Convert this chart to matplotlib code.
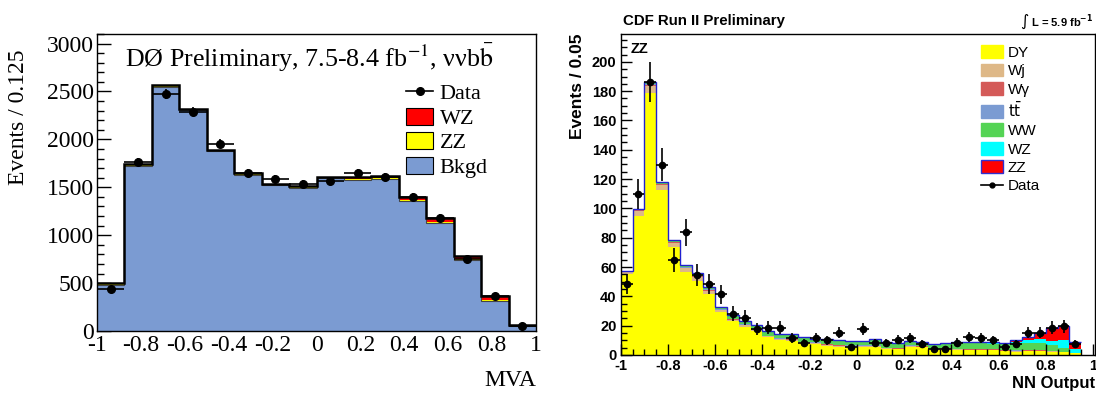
import numpy as np
import matplotlib
matplotlib.use('Agg')
import matplotlib.pyplot as plt
from matplotlib.patches import Patch
from matplotlib.lines import Line2D
from matplotlib.ticker import MultipleLocator

plt.rcParams['axes.unicode_minus'] = False

# ---- left panel: D0 nu nu b bbar, MVA output (16 bins of 0.125)
mva_edges = np.linspace(-1, 1, 17)
d0_bkgd = [482, 1727, 2552, 2305, 1877, 1633, 1523, 1496, 1595, 1579, 1591, 1356, 1123, 737, 318, 51]
d0_zz = [5, 5, 5, 5, 5, 5, 5, 5, 5, 6, 6, 8, 12, 10, 10, 3]
d0_wz = [10, 10, 8, 8, 8, 8, 8, 8, 12, 20, 25, 35, 45, 35, 35, 8]
d0_data = [435, 1763, 2476, 2291, 1955, 1650, 1588, 1536, 1564, 1653, 1605, 1399, 1183, 748, 370, 55]

# ---- right panel: CDF ZZ, NN output (39 filled bins of 0.05)
nn_edges = np.round(np.arange(-1, 0.951, 0.05), 3)
cdf_dy = [55, 95, 179, 112.7, 73.8, 56.7, 50.8, 41.9, 29, 23, 19.4, 16.4, 12, 10.2, 9.8, 8, 7.5, 6.4, 5.7, 5.7,
          5.5, 5.7, 4.1, 3.9, 5.7, 5.2, 3.4, 3.9, 3.4, 3.2, 3.2, 3.2, 2.5, 2.3, 2.5, 2.5, 2.0, 1.8, 1.1]
cdf_wj = [1.8, 3.4, 4.8, 3.4, 2.8, 2.5, 2.5, 2.1, 1.4, 1.2, 1.0, 0.9, 0.8, 0.7, 0.7, 0.6, 0.6, 0.6, 0.6, 0.5,
          0.5, 0.5, 0.5, 0.5, 0.5, 0.5, 0.5, 0.5, 0.5, 0.5, 0.5, 0.4, 0.4, 0.4, 0.4, 0.4, 0.4, 0.3, 0.1]
cdf_wg = [0.2, 0.4, 0.5, 0.4, 0.3, 0.3, 0.3, 0.3, 0.3, 0.3, 0.2, 0.2, 0.2, 0.2, 0.2, 0.2, 0.2, 0.2, 0.2, 0.2,
          0.2, 0.2, 0.2, 0.2, 0.2, 0.2, 0.2, 0.2, 0.2, 0.2, 0.2, 0.2, 0.2, 0.2, 0.2, 0.2, 0.2, 0.1, 0.1]
cdf_tt = [0.2, 0.3, 0.5, 0.4, 0.4, 0.4, 0.4, 0.4, 0.4, 0.4, 0.4, 0.4, 0.3, 0.3, 0.3, 0.3, 0.3, 0.3, 0.3, 0.3,
          0.3, 0.3, 0.3, 0.3, 0.2, 0.2, 0.2, 0.2, 0.2, 0.2, 0.2, 0.2, 0.2, 0.2, 0.2, 0.2, 0.2, 0.1, 0.1]
cdf_ww = [0.2, 0.2, 0.8, 0.6, 0.6, 0.8, 1.1, 1.3, 1.3, 1.8, 1.9, 2.0, 2.5, 2.1, 2.8, 2.3, 2.0, 2.6, 2.8, 2.0,
          2.7, 3.4, 3.2, 2.9, 2.1, 2.4, 2.4, 2.6, 3.7, 3.8, 3.8, 3.8, 4.0, 4.8, 5.0, 5.0, 3.8, 2.6, 0.2]
cdf_wz = [0.1, 0.1, 0.4, 0.3, 0.3, 0.4, 0.5, 0.5, 0.4, 0.4, 0.4, 0.4, 0.4, 0.4, 0.4, 0.4, 0.4, 0.4, 0.4, 0.4,
          0.4, 0.4, 0.4, 0.4, 0.4, 0.4, 0.4, 0.4, 0.5, 0.6, 0.5, 0.6, 0.6, 1.3, 1.8, 2.7, 2.8, 5.6, 2.8]
cdf_zz = [0.1, 0.1, 0.3, 0.2, 0.2, 0.2, 0.2, 0.2, 0.2, 0.2, 0.2, 0.2, 0.2, 0.2, 0.2, 0.2, 0.2, 0.2, 0.2, 0.2,
          0.2, 0.2, 0.2, 0.2, 0.2, 0.2, 0.2, 0.2, 0.2, 0.2, 0.3, 0.3, 0.3, 1.1, 2.2, 4.0, 9.3, 9.1, 4.2]
cdf_data = [48.5, 109.8, 186, 129.8, 64.7, 83.6, 54.7, 48.5, 41.5, 28.2, 25.5, 17.5, 18.7, 18.7, 11.4, 8, 11.4, 10,
            15.3, 5.5, 17.5, 8, 8, 10.5, 11.4, 7.5, 4.3, 4.3, 8.4, 12, 11.4, 10, 5.5, 7.5, 15.3, 15.3, 18.7, 19.6, 7.5]


def fmt(v, p):
    return '0' if abs(v) < 1e-9 else f'{v:g}'


W, H = 1096, 394
fig = plt.figure(figsize=(W / 100, H / 100), dpi=100)

# ================= left =================
serif = 'Liberation Serif'
ax1 = fig.add_axes([97 / W, 1 - 331 / H, (536 - 97) / W, (331 - 34) / H])
blue = '#7b9bd2'
b0 = np.array(d0_bkgd, float)
b1 = b0 + np.array(d0_zz)
b2 = b1 + np.array(d0_wz)
ax1.stairs(b0, mva_edges, baseline=0, fill=True, color=blue, zorder=3)
ax1.stairs(b1, mva_edges, baseline=b0, fill=True, color='#ffff00', zorder=3)
ax1.stairs(b2, mva_edges, baseline=b1, fill=True, color='#ff0000', zorder=3)
ax1.stairs(b0, mva_edges, baseline=None, color='#444444', lw=0.8, zorder=4)
ax1.stairs(b2, mva_edges, baseline=None, color='k', lw=1.8, zorder=4)
c1 = (mva_edges[:-1] + mva_edges[1:]) / 2
ax1.errorbar(c1, d0_data, xerr=0.0625, yerr=np.sqrt(d0_data), fmt='o', ms=5.5, color='k',
             elinewidth=1.2, capsize=0, zorder=5)
ax1.set_xlim(-1, 1)
ax1.set_ylim(0, 3100)
ax1.xaxis.set_major_locator(MultipleLocator(0.2))
ax1.yaxis.set_major_locator(MultipleLocator(500))
ax1.yaxis.set_minor_locator(MultipleLocator(100))
ax1.xaxis.set_major_formatter(plt.FuncFormatter(fmt))
ax1.tick_params(axis='y', which='major', direction='in', length=10, width=1, right=False, pad=2)
ax1.tick_params(axis='y', which='minor', direction='in', length=5, width=1, right=False)
ax1.tick_params(axis='x', length=0, pad=3)
for lab in ax1.get_xticklabels() + ax1.get_yticklabels():
    lab.set_fontfamily(serif)
    lab.set_fontsize(17)
ax1.set_ylabel('Events / 0.125', fontfamily=serif, fontsize=17)
ax1.yaxis.set_label_coords(-0.155, 0.72)
ax1.set_xlabel('MVA', fontfamily=serif, fontsize=17, ha='right')
ax1.xaxis.set_label_coords(1.0, -0.13)
for s in ax1.spines.values():
    s.set_linewidth(1.0)
    s.set_zorder(6)
ax1.text(0.064, 0.975, r'DØ Preliminary, 7.5-8.4 fb$^{\mathrm{-1}}$, ννb$\bar{\mathrm{b}}$',
         transform=ax1.transAxes, fontfamily=serif, fontsize=18.7, va='top', math_fontfamily='stix')
h1 = [Line2D([], [], color='k', marker='o', ms=5.5, lw=1.2),
      Patch(facecolor='#ff0000', edgecolor='k', lw=0.8),
      Patch(facecolor='#ffff00', edgecolor='k', lw=0.8),
      Patch(facecolor=blue, edgecolor='k', lw=0.8)]
leg1 = ax1.legend(h1, ['Data', 'WZ', 'ZZ', 'Bkgd'], loc='upper left', bbox_to_anchor=(0.705, 0.835),
                  frameon=False, prop={'family': serif, 'size': 16}, handlelength=1.2, handleheight=0.8,
                  handletextpad=0.3, labelspacing=0.15, borderaxespad=0, borderpad=0)
leg1.set_zorder(7)

# ================= right =================
sans = 'Liberation Sans'
ax2 = fig.add_axes([620.7 / W, 1 - 355 / H, (1095 - 620.7) / W, (355 - 34) / H])
comps = [cdf_dy, cdf_wj, cdf_wg, cdf_tt, cdf_ww, cdf_wz, cdf_zz]
cols = ['#ffff00', '#deb887', '#d45a58', '#7b9bd2', '#55d455', '#00ffff', '#ff0000']
names = ['DY', 'Wj', 'Wγ', r'$\mathrm{t\bar{t}}$', 'WW', 'WZ', 'ZZ']
base = np.zeros(len(cdf_dy))
for v, c in zip(comps, cols):
    top = base + np.array(v)
    ax2.stairs(top, nn_edges, baseline=base, fill=True, color=c, lw=0)
    base = top
ax2.stairs(base, nn_edges, baseline=None, color='#2020d0', lw=1.0)
c2 = (nn_edges[:-1] + nn_edges[1:]) / 2
ax2.errorbar(c2, cdf_data, xerr=0.025, yerr=np.sqrt(cdf_data), fmt='o', ms=4.5, color='k',
             elinewidth=1.2, capsize=0, zorder=5)
ax2.set_xlim(-1, 1.008)
ax2.set_ylim(0, 219)
ax2.xaxis.set_major_locator(MultipleLocator(0.2))
ax2.xaxis.set_minor_locator(MultipleLocator(0.05))
ax2.yaxis.set_major_locator(MultipleLocator(20))
ax2.yaxis.set_minor_locator(MultipleLocator(5))
ax2.xaxis.set_major_formatter(plt.FuncFormatter(fmt))
ax2.tick_params(which='major', direction='in', length=8, width=1, top=False, right=False, pad=3)
ax2.tick_params(which='minor', direction='in', length=4, width=1, top=False, right=False)
for lab in ax2.get_xticklabels() + ax2.get_yticklabels():
    lab.set_fontfamily(sans)
    lab.set_fontweight('bold')
    lab.set_fontsize(10.5)
ax2.set_ylabel('Events / 0.05', fontfamily=sans, fontweight='bold', fontsize=12.5, ha='right')
ax2.yaxis.set_label_coords(-0.075, 1.0)
ax2.set_xlabel('NN Output', fontfamily=sans, fontweight='bold', fontsize=12, ha='right')
ax2.xaxis.set_label_coords(1.0, -0.065)
for s in ax2.spines.values():
    s.set_linewidth(1.0)
    s.set_zorder(6)
ax2.text(0.02, 0.975, 'ZZ', transform=ax2.transAxes, fontfamily=sans, fontweight='bold', fontsize=10.5, va='top')
fig.text(623 / W, 1 - 25 / H, 'CDF Run II Preliminary', fontfamily=sans, fontweight='bold', fontsize=10.8)
fig.text(1093 / W, 1 - 26 / H, r'$\int$ L = 5.9 fb$^{\mathbf{-1}}$', fontfamily=sans, fontweight='bold',
         fontsize=8, ha='right', math_fontfamily='dejavusans')
h2 = [Patch(facecolor=c, edgecolor=c) for c in cols[:-1]] + [Patch(facecolor='#ff0000', edgecolor='#3030d0', lw=1)]
h2 += [Line2D([], [], color='k', marker='o', ms=3.5, lw=1.2)]
leg2 = ax2.legend(h2, names + ['Data'], loc='upper left', bbox_to_anchor=(0.76, 0.965), frameon=False,
                  prop={'family': sans, 'size': 11}, handlelength=1.45, handleheight=0.9,
                  handletextpad=0.3, labelspacing=0.25, borderaxespad=0, borderpad=0)
for t in leg2.get_texts():
    t.set_math_fontfamily('dejavusans')

fig.savefig('out.png', dpi=100)
